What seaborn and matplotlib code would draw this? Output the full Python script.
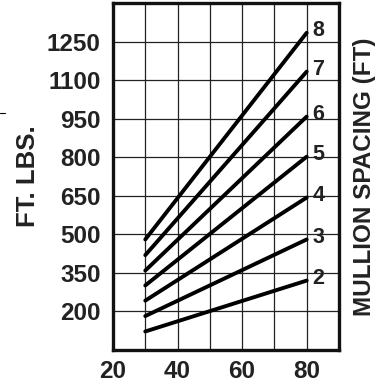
import pandas as pd
import matplotlib
matplotlib.use("Agg")
import matplotlib.pyplot as plt
import seaborn as sns
import numpy as np

# data: load at 30 and 80 for each mullion spacing
spacing = [2, 3, 4, 5, 6, 7, 8]
x_pts = [30, 80]
start_vals = [122, 182, 242, 301, 359, 419, 480]
end_vals = [320, 480, 643, 802, 958, 1133, 1284]
y_ticks = [200, 350, 500, 650, 800, 950, 1100, 1250]
x_ticks = [20, 40, 60, 80]

# long table for seaborn
rows = []
for s, a, b in zip(spacing, start_vals, end_vals):
    rows.append({"speed": x_pts[0], "load": a, "spacing": s})
    rows.append({"speed": x_pts[1], "load": b, "spacing": s})
df = pd.DataFrame(rows)

sns.set_style("white")
plt.rcParams['font.family'] = ['Liberation Sans', 'DejaVu Sans']
plt.rcParams['font.weight'] = 'bold'

fig = plt.figure(figsize=(3.76, 3.83), dpi=100)
ax = fig.add_axes([0.3005, 0.0862, 0.601, 0.906])

sns.lineplot(data=df, x="speed", y="load", units="spacing", estimator=None,
             color="black", linewidth=2.8, ax=ax, zorder=3)

ax.set_xlim(20, 90)
ax.set_ylim(50, 1400)
ax.set_xticks(x_ticks)
ax.set_xticks([30, 50, 70, 90], minor=True)
ax.set_yticks(y_ticks)
ax.grid(True, which="both", color="#222222", linewidth=0.9)
ax.tick_params(which="both", length=0)
ax.tick_params(axis="y", pad=9, labelsize=17.5)
ax.tick_params(axis="x", pad=7, labelsize=17.5)
for lab in ax.get_xticklabels() + ax.get_yticklabels():
    lab.set_fontweight("bold")
    lab.set_color("#222222")

for sp in ax.spines.values():
    sp.set_visible(True)
    sp.set_color("#111111")
    sp.set_linewidth(2.4)

ax.set_xlabel("")
ax.set_ylabel("FT. LBS.", fontsize=18.5, fontweight="bold", color="#222222", labelpad=5)

# spacing labels at the line ends
for s, b in zip(spacing, end_vals):
    ax.annotate(str(s), xy=(x_pts[1], b), xytext=(4, 1.5), textcoords="offset points",
                fontsize=15.5, fontweight="bold", color="#222222", va="center", ha="left")

ax2 = ax.twinx()
ax2.set_yticks([])
ax2.set_ylabel("MULLION SPACING (FT)", fontsize=17.5, fontweight="bold",
               color="#222222", labelpad=10)
for sp in ax2.spines.values():
    sp.set_visible(False)

# small stray mark at top left of the original
fig.add_artist(plt.Line2D([0, 0.013], [1 - 113 / 383, 1 - 113 / 383],
                          color="black", linewidth=0.8, transform=fig.transFigure))

fig.savefig("out.png", dpi=100)
